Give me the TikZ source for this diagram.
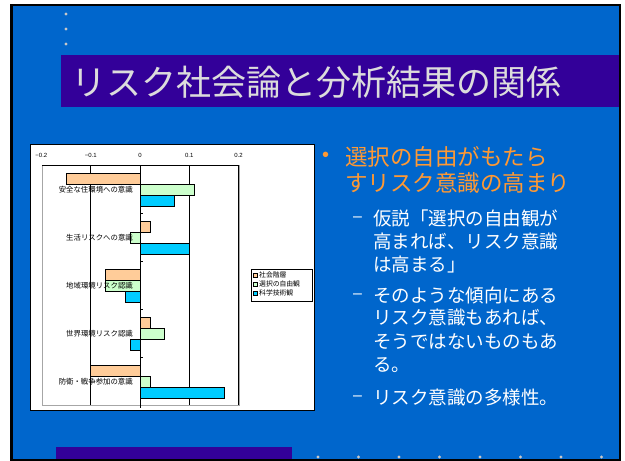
\documentclass[tikz,border=0pt]{standalone}
\usepackage{fontspec}
\setmainfont{Liberation Sans}
\newfontfamily\jp{Noto Sans CJK JP}
\definecolor{slideblue}{HTML}{0066CC}
\definecolor{titlepurple}{HTML}{330099}
\definecolor{titlegray}{HTML}{DCDCDC}
\definecolor{bulletorange}{HTML}{FF9933}
\definecolor{barorange}{HTML}{FFCC99}
\definecolor{bargreen}{HTML}{CCFFCC}
\definecolor{barcyan}{HTML}{00CCFF}
\definecolor{dotgray}{HTML}{C8C8C8}
\begin{document}
\begin{tikzpicture}[x=1pt,y=-1pt,
  bar/.style={draw=black,line width=0.6pt},
  catlabel/.style={anchor=east,inner sep=0pt,font=\jp\fontsize{7.4}{8}\selectfont},
  ticklabel/.style={inner sep=0pt,font=\fontsize{6}{7}\selectfont},
  legtext/.style={anchor=west,inner sep=0pt,font=\jp\fontsize{6.8}{7}\selectfont},
  mainline/.style={anchor=west,inner sep=0pt,text=bulletorange,font=\jp\fontsize{22.5}{24}\selectfont},
  subline/.style={anchor=west,inner sep=0pt,text=white,font=\jp\fontsize{18.5}{20}\selectfont},
  dashmark/.style={anchor=west,inner sep=0pt,text=white,font=\fontsize{16}{18}\selectfont},
  dot/.style={fill=dotgray,draw=none}]
\useasboundingbox (0,0) rectangle (625,461);
\fill[white] (0,0) rectangle (625,461);
% slide frame
\fill[black] (10,4) rectangle (621,461);
\fill[slideblue] (13,6) rectangle (619,459);
% top dots
\foreach \yy in {14,29,44} \fill[dot] (66,\yy) circle (1.7);
% title bar
\fill[titlepurple] (61,55) rectangle (619,107);
\node[anchor=west,inner sep=0pt,text=titlegray,font=\jp\fontsize{35}{36}\selectfont] (title) at (71,82) {リスク社会論と分析結果の関係};
% bottom bar and dots
\fill[titlepurple] (56,447) rectangle (292,459);
\foreach \k in {0,...,7} \fill[dot] ({318+40.5*\k},457) circle (1.7);
% chart box
\draw[fill=white,draw=black,line width=1pt] (30,144) rectangle (314,410);
% plot area frame
\draw[draw=gray!70,line width=0.8pt] (42,165) rectangle (239,405);
\draw[black,line width=0.6pt] (42,165) -- (239,165);
\foreach \v in {-0.1,0.1,0.2} \draw[black,line width=0.6pt] ({140+493*\v},165) -- ({140+493*\v},405);
% tick labels
\foreach \v/\lab in {-0.2/{−0.2},-0.1/{−0.1},0/0,0.1/0.1,0.2/0.2}
  \node[ticklabel] at ({140+493*\v},155) {\lab};
% bars
\foreach \i/\a/\b/\c in {0/-0.15/0.11/0.07, 1/0.02/-0.02/0.10, 2/-0.07/-0.07/-0.03, 3/0.02/0.05/-0.02, 4/-0.10/0.02/0.17} {
  \pgfmathsetmacro\t{165+48*\i}
  \draw[bar,fill=barorange] (140,\t+8) rectangle ({140+493*(\a)},\t+19);
  \draw[bar,fill=bargreen] (140,\t+19) rectangle ({140+493*(\b)},\t+30);
  \draw[bar,fill=barcyan] (140,\t+30) rectangle ({140+493*(\c)},\t+41);
}
% category axis
\draw[black,line width=0.7pt] (140,165) -- (140,408);
\foreach \i in {1,...,4} \draw[black,line width=0.6pt] (140,165+48*\i) -- (143,165+48*\i);
% category labels
\node[catlabel] (c1) at (133,190) {安全な住環境への意識};
\node[catlabel] (c2) at (133,238) {生活リスクへの意識};
\node[catlabel] (c3) at (133,286) {地域環境リスク認識};
\node[catlabel] (c4) at (133,334) {世界環境リスク認識};
\node[catlabel] (c5) at (133,382) {防衛・戦争参加の意識};
% legend
\draw[fill=white,draw=black,line width=0.6pt] (251,269) rectangle (312,301);
\draw[fill=barorange,line width=0.5pt] (253.5,273) rectangle (257.5,277);
\draw[fill=bargreen,line width=0.5pt] (253.5,282) rectangle (257.5,286);
\draw[fill=barcyan,line width=0.5pt] (253.5,291) rectangle (257.5,295);
\node[legtext] (l1) at (259,275) {社会階層};
\node[legtext] (l2) at (259,284) {選択の自由観};
\node[legtext] (l3) at (259,293) {科学技術観};
% right text
\node[anchor=west,inner sep=0pt,text=bulletorange,font=\fontsize{20}{22}\selectfont] (b0) at (322,157) {•};
\node[mainline] (m1) at (345,157) {選択の自由がもたら};
\node[mainline] (m2) at (345,183) {すリスク意識の高まり};
\node[dashmark] (d1) at (353,219) {–};
\node[subline] (s1) at (373,218) {仮説「選択の自由観が};
\node[subline] (s2) at (373,242) {高まれば、リスク意識};
\node[subline] (s3) at (373,265) {は高まる」};
\node[dashmark] (d2) at (353,296) {–};
\node[subline] (s4) at (373,295) {そのような傾向にある};
\node[subline] (s5) at (373,318) {リスク意識もあれば、};
\node[subline] (s6) at (373,342) {そうではないものもあ};
\node[subline] (s7) at (373,365) {る。};
\node[dashmark] (d3) at (353,398) {–};
\node[subline] (s8) at (373,397) {リスク意識の多様性。};
\end{tikzpicture}
\end{document}
